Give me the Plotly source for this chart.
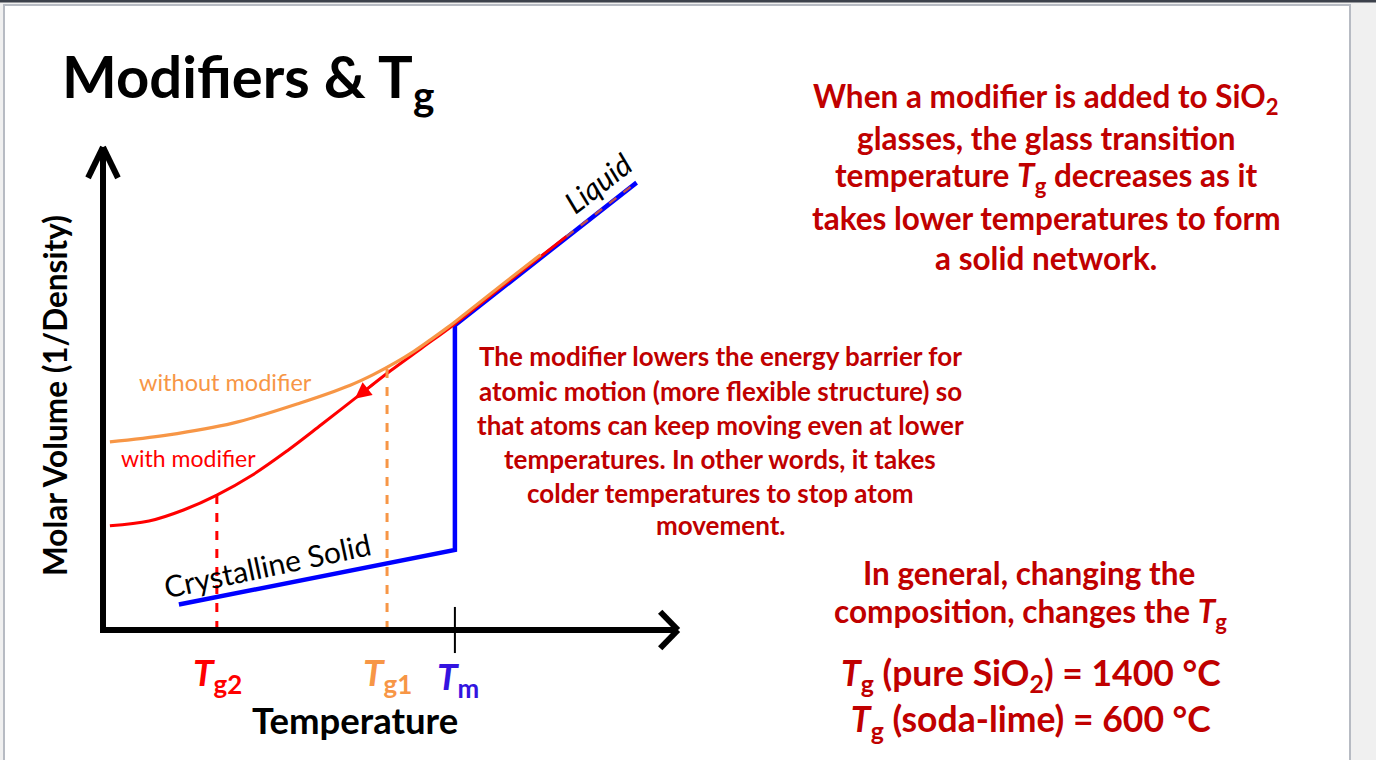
import plotly.graph_objects as go

W, H = 1376, 760

# ---------------- data (Temperature T, Molar volume V, arbitrary units 0-100) ----------------
blue_T = [13.2, 61.2, 61.2, 92.8]          # crystalline solid -> melting at Tm -> liquid
blue_V = [5.3, 16.7, 63.5, 93.2]

orange_T = [1.2, 11.1, 22.6, 34.3, 43.0, 47.0, 51.0, 54.0, 57.0, 60.0, 63.0, 70.0, 76.1]
orange_V = [39.2, 40.6, 43.1, 47.3, 51.0, 53.2, 55.8, 58.0, 60.5, 63.1, 65.9, 72.5, 78.2]

red_T = [1.2, 8.0, 14.0, 19.8, 26.0, 32.0, 38.0, 44.0, 50.0, 55.5, 61.0, 70.0, 80.6]
red_V = [21.7, 22.7, 25.0, 28.1, 32.3, 37.3, 42.8, 48.4, 54.0, 58.8, 63.6, 72.1, 82.0]

red_liquid_T = [80.6, 92.7]
red_liquid_V = [82.0, 93.2]

Tg2, Tg2_V = 19.8, 28.1
Tg1, Tg1_V = 49.4, 54.6
Tm = 61.2

arrow_head = (43.8, 48.2)
arrow_tail = (47.4, 51.6)

# axis arrows (data units)
x_axis_end = 100.0
y_axis_end = 100.6

# ---------------- mapping of data units onto the 1376x760 page ----------------
ORIGIN_PX = (103, 630)
PX_PER_T = 5.75
PX_PER_V = 4.8
x_range = [-ORIGIN_PX[0] / PX_PER_T, (W - ORIGIN_PX[0]) / PX_PER_T]
y_range = [-(H - ORIGIN_PX[1]) / PX_PER_V, ORIGIN_PX[1] / PX_PER_V]


def P(x, y):
    return x / W, 1 - y / H


DARK_RED = "#C00000"
ORANGE = "#F79646"
RED = "#FF0000"
BLUE = "#0000FF"
FONT = "Lato"

fig = go.Figure()

fig.add_trace(go.Scatter(x=blue_T, y=blue_V, mode="lines",
                         line=dict(color=BLUE, width=4.5), hoverinfo="skip"))
fig.add_trace(go.Scatter(x=red_T, y=red_V, mode="lines",
                         line=dict(color=RED, width=3, shape="spline", smoothing=1.0), hoverinfo="skip"))
fig.add_trace(go.Scatter(x=orange_T, y=orange_V, mode="lines",
                         line=dict(color=ORANGE, width=3.2, shape="spline", smoothing=1.0), hoverinfo="skip"))
fig.add_trace(go.Scatter(x=red_liquid_T, y=red_liquid_V, mode="lines",
                         line=dict(color="#C0504D", width=2.5, dash="dash"), hoverinfo="skip"))
fig.add_trace(go.Scatter(x=[Tg2, Tg2], y=[0, Tg2_V], mode="lines",
                         line=dict(color=RED, width=3, dash="dash"), hoverinfo="skip"))
fig.add_trace(go.Scatter(x=[Tg1, Tg1], y=[0, Tg1_V], mode="lines",
                         line=dict(color=ORANGE, width=3, dash="dash"), hoverinfo="skip"))

shapes = []
# page frame
shapes.append(dict(type="rect", xref="paper", yref="paper", x0=4 / W, x1=1350 / W, y0=-0.01, y1=1 - 5 / H,
                   fillcolor="white", line=dict(color="#B7BBC3", width=2), layer="below"))
shapes.append(dict(type="rect", xref="paper", yref="paper", x0=0, x1=1, y0=1 - 2.5 / H, y1=1,
                   fillcolor="#3C414B", line=dict(width=0), layer="below"))
# axes with arrows
ax_line = dict(color="black", width=6)
shapes.append(dict(type="line", x0=-0.5, y0=0, x1=x_axis_end, y1=0, line=ax_line))
shapes.append(dict(type="line", x0=0, y0=-0.6, x1=0, y1=y_axis_end, line=ax_line))
shapes.append(dict(type="line", x0=x_axis_end, y0=0, x1=x_axis_end - 3.1, y1=3.8, line=ax_line))
shapes.append(dict(type="line", x0=x_axis_end, y0=0, x1=x_axis_end - 3.1, y1=-3.8, line=ax_line))
shapes.append(dict(type="line", x0=0, y0=y_axis_end, x1=-2.6, y1=y_axis_end - 6.4, line=ax_line))
shapes.append(dict(type="line", x0=0, y0=y_axis_end, x1=2.6, y1=y_axis_end - 6.4, line=ax_line))
# Tm tick
shapes.append(dict(type="line", x0=Tm, y0=-4.8, x1=Tm, y1=4.8, line=dict(color="black", width=2)))

ann = []


def text(x, y, s, size, color="black", bold=False, italic=False, angle=0, xanchor="center"):
    if bold:
        s = "<b>" + s + "</b>"
    if italic:
        s = "<i>" + s + "</i>"
    px, py = P(x, y)
    ann.append(dict(x=px, y=py, xref="paper", yref="paper", text=s, showarrow=False,
                    xanchor=xanchor, yanchor="middle", textangle=angle,
                    font=dict(family=FONT, size=size, color=color)))


# red arrow on the "with modifier" curve
ann.append(dict(x=arrow_head[0], y=arrow_head[1], ax=arrow_tail[0], ay=arrow_tail[1],
                xref="x", yref="y", axref="x", ayref="y", text="", showarrow=True,
                arrowhead=2, arrowsize=1.3, arrowwidth=2.5, arrowcolor=RED))

# title
text(60, 80, "Modifiers & T<sub>g</sub>", 58, bold=True, xanchor="left")

# axis titles
text(55, 396, "Molar Volume (1/Density)", 31.5, bold=True, angle=-90)
text(355, 720, "Temperature", 36.5, bold=True)

# temperature markers
text(217, 674, "<i>T</i><sub>g2</sub>", 37, color=RED, bold=True)
text(387, 674, "<i>T</i><sub>g1</sub>", 37, color=ORANGE, bold=True)
text(458, 678, "<i>T</i><sub>m</sub>", 37, color="#3314E0", bold=True)

# curve labels
text(225, 382, "without modifier", 23.5, color=ORANGE)
text(188, 458, "with modifier", 23, color=RED)
text(597, 183, "Liquid", 30, italic=True, angle=-38)
text(267, 565, "Crystalline Solid", 30, angle=-12)

# right-hand text
top_lines = ["When a modifier is added to SiO<sub>2</sub>",
             "glasses, the glass transition",
             "temperature <i>T</i><sub>g</sub> decreases as it",
             "takes lower temperatures to form",
             "a solid network."]
for i, s in enumerate(top_lines):
    text(1046, 98 + 40 * i, s, 31.5, color=DARK_RED, bold=True)

mid_lines = ["The modifier lowers the energy barrier for",
             "atomic motion (more flexible structure) so",
             "that atoms can keep moving even at lower",
             "temperatures. In other words, it takes",
             "colder temperatures to stop atom",
             "movement."]
mid_y = [356, 391, 425, 459, 493, 525]
for s, y in zip(mid_lines, mid_y):
    text(720, y, s, 26, color=DARK_RED, bold=True)

text(1029, 573, "In general, changing the", 31.5, color=DARK_RED, bold=True)
text(1030, 613, "composition, changes the <i>T</i><sub>g</sub>", 31.5, color=DARK_RED, bold=True)
text(1031, 698, "<i>T</i><sub>g</sub> (pure SiO<sub>2</sub>) = 1400 °C<br>"
                "<i>T</i><sub>g</sub> (soda-lime) = 600 °C", 35.5, color=DARK_RED, bold=True)

fig.update_layout(
    width=W, height=H, margin=dict(l=0, r=0, t=0, b=0),
    paper_bgcolor="#F0F0F0", plot_bgcolor="rgba(0,0,0,0)",
    showlegend=False, shapes=shapes, annotations=ann,
    font=dict(family=FONT),
    xaxis=dict(range=x_range, visible=False, fixedrange=True),
    yaxis=dict(range=y_range, visible=False, fixedrange=True),
)

fig.write_html("out.html", config={"displayModeBar": False},
               post_script="document.body.style.margin='0';document.body.style.overflow='hidden';")
